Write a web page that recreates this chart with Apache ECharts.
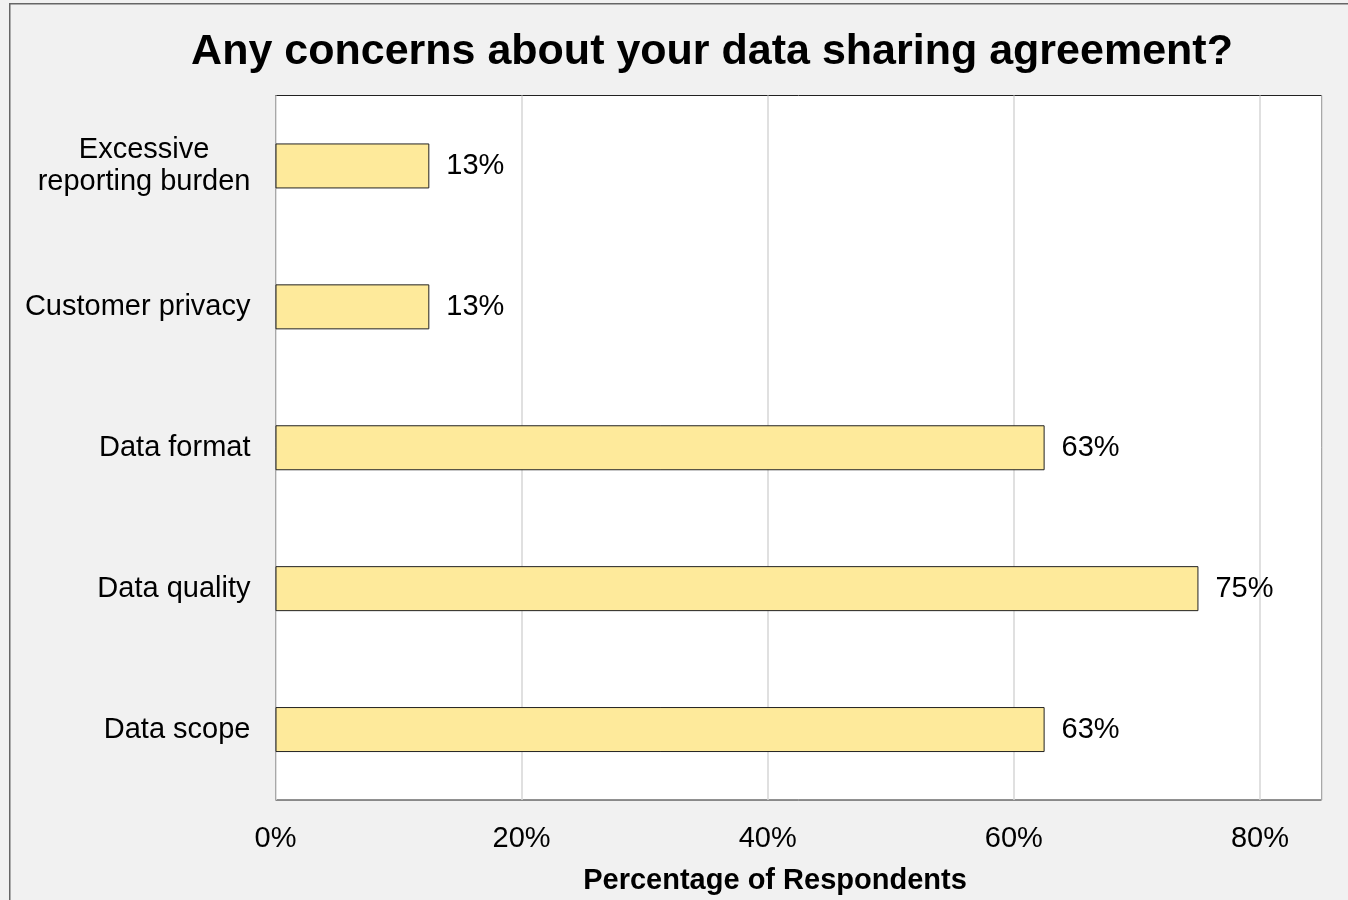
<!DOCTYPE html>
<html>
<head>
<meta charset="utf-8">
<style>
html,body{margin:0;padding:0;background:#f1f1f1;overflow:hidden;}
#chart{width:1348px;height:900px;}
</style>
<script src="https://cdn.jsdelivr.net/npm/echarts@6/dist/echarts.min.js"></script>
</head>
<body>
<div id="chart"></div>
<script>
const titleText = 'Any concerns about your data sharing agreement?';
const categories = ['Excessive reporting burden', 'Customer privacy', 'Data format', 'Data quality', 'Data scope'];
const values = [12.5, 12.5, 62.5, 75, 62.5];
const xTicks = [0, 20, 40, 60, 80];
const axisName = 'Percentage of Respondents';

const FONT = '"Liberation Sans", Arial, sans-serif';
const chart = echarts.init(document.getElementById('chart'));
chart.setOption({
  backgroundColor: '#f1f1f1',
  animation: false,
  graphic: [{
    type: 'rect', left: 9, top: 3, z: -10,
    shape: { width: 1400, height: 960 },
    style: { fill: '#f1f1f1', stroke: '#666', lineWidth: 1.5 }
  }],
  title: {
    text: titleText,
    left: 707, textAlign: 'center', top: 26,
    textStyle: { fontFamily: FONT, fontSize: 43, fontWeight: 'bold', color: '#000' }
  },
  grid: {
    left: 275.5, right: 26.5, top: 95.5, bottom: 95.5,
    show: true, backgroundColor: '#fff', borderColor: '#222', borderWidth: 1
  },
  xAxis: {
    type: 'value', min: 0, max: 85, interval: 20,
    axisLine: { show: false }, axisTick: { show: false },
    splitLine: { show: true, lineStyle: { color: '#d6d6d6', width: 1.5 } },
    axisLabel: {
      margin: 24, fontFamily: FONT, fontSize: 29, color: '#000',
      formatter: v => xTicks.includes(v) ? v + '%' : ''
    },
    name: axisName, nameLocation: 'middle', nameGap: 66,
    nameTextStyle: { fontFamily: FONT, fontSize: 29, fontWeight: 'bold', color: '#000', padding: [0, 47, 0, 0] }
  },
  yAxis: {
    type: 'category', data: categories, inverse: true,
    axisLine: { show: false }, axisTick: { show: false }, splitLine: { show: false },
    axisLabel: {
      margin: 25, fontFamily: FONT, fontSize: 29, color: '#000', lineHeight: 32,
      formatter: v => v === 'Excessive reporting burden' ? '{c|Excessive}\n{c|reporting burden}' : v,
      rich: { c: { align: 'center', fontFamily: FONT, fontSize: 29, color: '#000', lineHeight: 32 } }
    }
  },
  series: [{
    type: 'bar', data: values, barWidth: 45,
    itemStyle: { color: '#feea9b', borderColor: '#222', borderWidth: 1 },
    label: {
      show: true, position: 'right', distance: 17,
      fontFamily: FONT, fontSize: 29, color: '#000',
      formatter: p => Math.round(p.value) + '%'
    }
  }]
});
</script>
</body>
</html>
